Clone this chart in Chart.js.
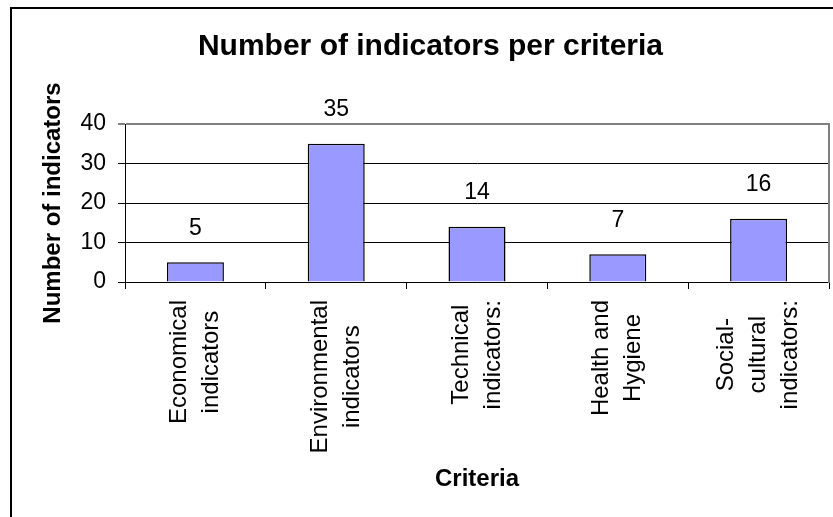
<!DOCTYPE html>
<html>
<head>
<meta charset="utf-8">
<script src="https://cdn.jsdelivr.net/npm/chart.js@4/dist/chart.umd.min.js"></script>
<style>
  html, body { margin: 0; padding: 0; background: #fff; overflow: hidden; }
  #wrap { position: relative; width: 833px; height: 517px; }
  #frame { position: absolute; left: 10px; top: 7px; width: 1000px; height: 1000px; border: 2px solid #000; }
  #c { position: absolute; left: 0; top: 0; }
</style>
</head>
<body>
<div id="wrap">
  <div id="frame"></div>
  <canvas id="c" width="833" height="517"></canvas>
</div>
<script>
const chartTitle = 'Number of indicators per criteria';
const yAxisTitle = 'Number of indicators';
const xAxisTitle = 'Criteria';
const categories = [
  ['Economical', 'indicators'],
  ['Environmental', 'indicators'],
  ['Technical', 'indicators:'],
  ['Health and', 'Hygiene'],
  ['Social-', 'cultural', 'indicators:']
];
const indicatorCounts = [5, 35, 14, 7, 16];
const yTicks = [0, 10, 20, 30, 40];

const FONT = '"Liberation Sans", Arial, sans-serif';

const valueLabels = {
  id: 'valueLabels',
  afterDatasetsDraw(chart) {
    const ctx = chart.ctx;
    const meta = chart.getDatasetMeta(0);
    const data = chart.data.datasets[0].data;
    ctx.save();
    ctx.font = '23px ' + FONT;
    ctx.fillStyle = '#000';
    ctx.textAlign = 'center';
    ctx.textBaseline = 'middle';
    meta.data.forEach((bar, i) => {
      ctx.fillText(String(data[i]), bar.x, bar.y - 34);
    });
    ctx.restore();
  }
};

function centerRotatedLabels(scale) {
  if (scale._centerWrapped) return;
  scale._centerWrapped = true;
  const orig = scale._computeLabelItems;
  scale._computeLabelItems = function (ca) {
    const items = orig.call(this, ca);
    const ctx = this.ctx;
    items.forEach(it => {
      const lines = Array.isArray(it.label) ? it.label : [it.label];
      const lh = it.font.lineHeight;
      ctx.save();
      ctx.font = it.font.string;
      const maxW = Math.max(...lines.map(l => ctx.measureText(l).width));
      ctx.restore();
      it.options.translation[0] -= (lines.length - 1) * lh / 2;
      it.options.translation[1] += maxW / 2;
      it.options.textAlign = 'center';
    });
    return items;
  };
}

new Chart(document.getElementById('c'), {
  type: 'bar',
  data: {
    labels: categories,
    datasets: [{
      data: indicatorCounts,
      backgroundColor: '#9999FF',
      borderColor: '#000000',
      borderWidth: 1.5,
      categoryPercentage: 1,
      barPercentage: 0.405
    }]
  },
  options: {
    responsive: false,
    animation: false,
    devicePixelRatio: 1,
    layout: { padding: { left: 32, right: 4, top: 0, bottom: 0 } },
    plugins: {
      legend: { display: false },
      tooltip: { enabled: false },
      title: {
        display: true,
        text: chartTitle,
        color: '#000',
        font: { family: FONT, size: 30, weight: 'bold', lineHeight: 1.2 },
        padding: { top: 28.3, bottom: 59.7 }
      }
    },
    scales: {
      x: {
        grid: {
          display: true,
          drawOnChartArea: false,
          drawTicks: true,
          tickLength: 7,
          color: '#000',
          lineWidth: 1,
          offset: true
        },
        border: { display: true, color: '#000', width: 1 },
        ticks: {
          autoSkip: false,
          minRotation: 90,
          maxRotation: 90,
          padding: 11,
          color: '#000',
          font: { family: FONT, size: 24, lineHeight: 1.333 }
        },
        title: {
          display: true,
          text: xAxisTitle,
          color: '#000',
          font: { family: FONT, size: 24, weight: 'bold', lineHeight: 1.2 },
          padding: { top: 0, bottom: 23 }
        },
        afterFit(scale) {
          scale.height = 235;
          scale.paddingLeft = 0;
          scale.paddingRight = 0;
        },
        afterUpdate: centerRotatedLabels
      },
      y: {
        min: 0,
        max: 40,
        afterBuildTicks(scale) {
          scale.ticks = yTicks.map(v => ({ value: v }));
        },
        grid: {
          drawTicks: true,
          tickLength: 7,
          color: c => (c.tick && c.tick.value === 40) ? '#808080' : '#000',
          lineWidth: c => (c.tick && c.tick.value === 40) ? 2 : 1,
          tickColor: '#000',
          tickWidth: 1
        },
        border: { display: true, color: '#000', width: 1 },
        ticks: {
          padding: 12,
          color: '#000',
          font: { family: FONT, size: 23 }
        },
        title: {
          display: true,
          text: yAxisTitle,
          color: '#000',
          font: { family: FONT, size: 24, weight: 'bold', lineHeight: 1.2 },
          padding: { top: 7, bottom: 0 }
        },
        afterFit(scale) {
          scale.width = 93;
          scale.paddingTop = 0;
          scale.paddingBottom = 0;
        }
      },
      y2: {
        position: 'right',
        display: true,
        grid: { display: false, drawOnChartArea: false, drawTicks: false },
        border: { display: true, color: '#808080', width: 2 },
        ticks: { display: false },
        afterFit(scale) {
          scale.width = 0;
          scale.paddingTop = 0;
          scale.paddingBottom = 0;
        }
      }
    }
  },
  plugins: [valueLabels]
});
</script>
</body>
</html>
